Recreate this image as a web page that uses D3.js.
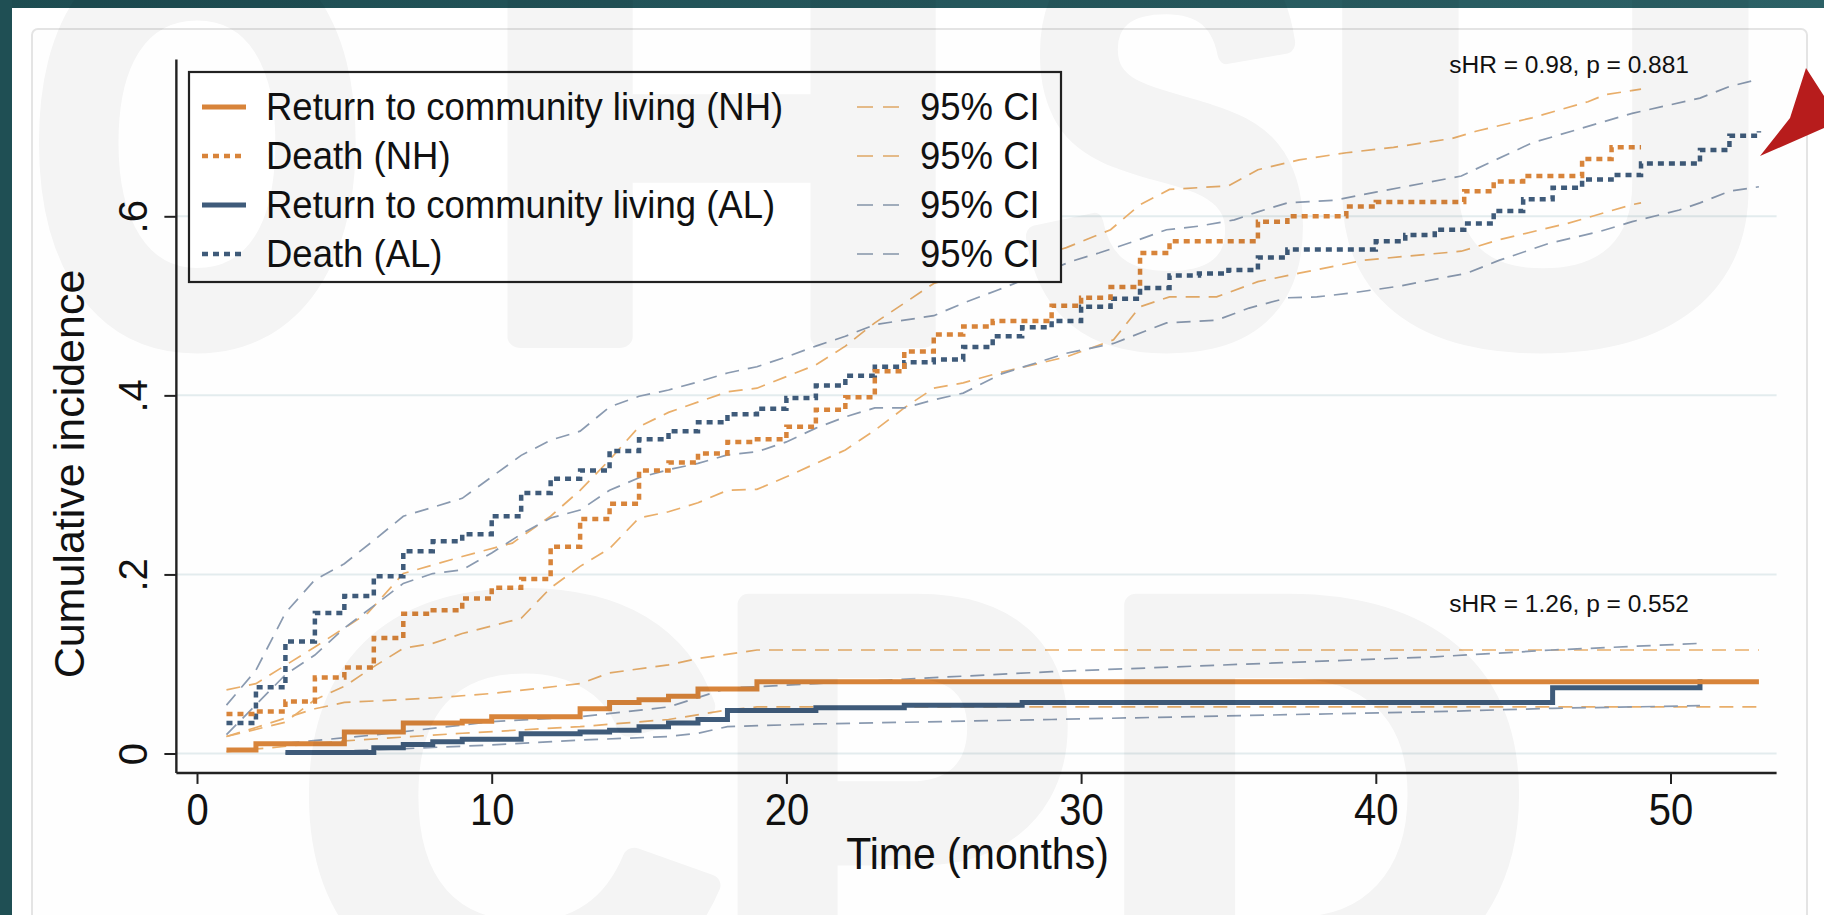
<!DOCTYPE html>
<html><head><meta charset="utf-8">
<script src="https://cdn.jsdelivr.net/npm/d3@7"></script>
<style>
html,body{margin:0;padding:0;background:#fff;}
svg{display:block;}
text{font-family:"Liberation Sans", Arial, Helvetica, sans-serif;}
</style></head><body>
<svg id="c" width="1824" height="915"></svg>
<script>
// ---------------- data ----------------
const xTicks = [0, 10, 20, 30, 40, 50];
const yTicks = [0, 0.2, 0.4, 0.6];
const yTickLabels = ["0", ".2", ".4", ".6"];
const xTitle = "Time (months)";
const yTitle = "Cumulative incidence";

// cumulative incidence step curves [month, value]
const returnNH = [[1,0.004],[2,0.011],[5,0.024],[7,0.034],[9,0.036],[10,0.041],[13,0.050],[14,0.057],[15,0.060],[16,0.064],[17,0.072],[19,0.080],[53,0.080]];
const deathNH = [[1,0.044],[2,0.047],[3,0.058],[4,0.085],[5,0.096],[6,0.129],[7,0.156],[8,0.160],[9,0.173],[10,0.185],[11,0.195],[12,0.231],[13,0.262],[14,0.279],[15,0.316],[16,0.325],[17,0.335],[18,0.348],[19,0.351],[20,0.365],[21,0.384],[22,0.398],[23,0.427],[24,0.449],[25,0.468],[26,0.477],[27,0.483],[29,0.500],[30,0.509],[31,0.521],[32,0.559],[33,0.572],[36,0.594],[37,0.600],[39,0.611],[40,0.616],[43,0.628],[44,0.639],[45,0.645],[47,0.664],[48,0.677],[49,0.677]];
const returnAL = [[3,0.001],[6,0.0065],[7,0.010],[8,0.013],[9,0.016],[11,0.022],[13,0.024],[14,0.026],[15,0.030],[16,0.034],[17,0.038],[18,0.048],[21,0.051],[24,0.054],[28,0.057],[46,0.0735],[51,0.083]];
const deathAL = [[1,0.034],[2,0.074],[3,0.125],[4,0.157],[5,0.176],[6,0.198],[7,0.226],[8,0.237],[9,0.245],[10,0.265],[11,0.291],[12,0.307],[13,0.316],[14,0.338],[15,0.351],[16,0.360],[17,0.370],[18,0.379],[19,0.385],[20,0.397],[21,0.411],[22,0.422],[23,0.432],[24,0.437],[25,0.440],[26,0.454],[27,0.466],[28,0.476],[29,0.483],[30,0.499],[31,0.508],[32,0.520],[33,0.534],[34,0.536],[35,0.540],[36,0.554],[37,0.563],[40,0.572],[41,0.579],[42,0.585],[43,0.592],[44,0.606],[45,0.619],[46,0.632],[47,0.641],[48,0.646],[49,0.659],[51,0.674],[52,0.690],[53,0.695]];

// 95% confidence bands [month, value]
const returnNH_hi = [[1,0.019],[2,0.029],[4,0.050],[5,0.057],[8,0.062],[10,0.067],[13,0.078],[14,0.090],[16,0.099],[17,0.106],[19,0.1156],[53,0.1156]];
const returnNH_lo = [[1,0.002],[5,0.014],[9,0.0226],[13,0.030],[16,0.038],[18,0.0486],[19,0.052],[53,0.052]];
const deathNH_hi = [[1,0.071],[2,0.078],[4,0.119],[5.8,0.157],[7,0.201],[9,0.220],[10.7,0.235],[12,0.265],[13,0.294],[14,0.328],[15,0.365],[16,0.381],[18,0.404],[19,0.408],[20,0.421],[21,0.434],[22,0.455],[23,0.481],[24,0.503],[25,0.525],[26,0.535],[28,0.550],[29.5,0.565],[31,0.585],[32,0.613],[33,0.630],[35,0.634],[36,0.652],[37.4,0.663],[39,0.671],[40.6,0.677],[42.6,0.687],[43.4,0.695],[45.3,0.710],[47.2,0.728],[47.8,0.736],[49,0.742]];
const deathNH_lo = [[1,0.019],[3,0.035],[4,0.060],[5,0.075],[6,0.097],[7,0.1175],[8,0.123],[9,0.134],[11,0.151],[12,0.185],[13,0.209],[14,0.229],[15,0.263],[16,0.270],[17,0.280],[18,0.294],[19,0.295],[20,0.309],[21,0.324],[22,0.339],[23,0.361],[24,0.386],[25,0.408],[26,0.414],[27.2,0.425],[29.5,0.443],[31.1,0.462],[32,0.499],[33,0.510],[34.6,0.510],[36,0.527],[37.4,0.5365],[39.6,0.551],[42.9,0.561],[44.2,0.574],[46.5,0.592],[48.7,0.613],[49,0.615]];
const returnAL_hi = [[3,0.0114],[6,0.0207],[10,0.0355],[13,0.041],[16,0.052],[18,0.073],[21,0.078],[29,0.0914],[42,0.108],[46,0.1156],[51,0.123]];
const returnAL_lo = [[3,0.0002],[6,0.004],[10,0.0095],[13,0.015],[16,0.019],[17,0.0226],[18,0.030],[21,0.033],[29,0.038],[42,0.0467],[46,0.0505],[51,0.0534]];
const deathAL_hi = [[1,0.054],[2,0.093],[3,0.157],[4,0.194],[5,0.212],[6,0.238],[7,0.265],[9,0.285],[10,0.309],[11,0.333],[12,0.350],[13,0.360],[14,0.387],[15,0.399],[16,0.406],[17,0.415],[18,0.425],[19,0.432],[20,0.443],[21,0.455],[22,0.466],[23,0.479],[24,0.484],[25,0.489],[26,0.503],[27.2,0.518],[29.7,0.550],[30.6,0.559],[31.8,0.572],[32.9,0.585],[34,0.589],[35.2,0.596],[36,0.605],[37,0.615],[38.6,0.618],[40,0.627],[42.9,0.645],[43.8,0.659],[45.3,0.682],[47,0.6985],[48.7,0.715],[51,0.732],[52,0.745],[53,0.753]];
const deathAL_lo = [[1,0.021],[3,0.088],[4,0.110],[5,0.140],[7,0.190],[8,0.201],[9,0.205],[10,0.224],[11,0.245],[12,0.263],[13,0.272],[14,0.294],[15,0.308],[16,0.317],[17,0.324],[18,0.3335],[19,0.337],[20,0.348],[21,0.3634],[22,0.376],[23,0.386],[24,0.386],[25,0.395],[26,0.4025],[27.3,0.424],[29.5,0.447],[31.1,0.458],[32.9,0.481],[34.6,0.484],[35.7,0.4975],[37,0.509],[38,0.510],[39.1,0.514],[40.8,0.522],[43.1,0.5365],[44.2,0.551],[45.9,0.570],[47.6,0.583],[48.7,0.594],[50.3,0.607],[51,0.615],[52,0.628],[53,0.633]];

const legendLabels = ["Return to community living (NH)", "Death (NH)", "Return to community living (AL)", "Death (AL)"];
const ciLabel = "95% CI";
const annotations = ["sHR = 0.98, p = 0.881", "sHR = 1.26, p = 0.552"];
const watermarkTop = ["O", "H", "S", "U"];
const watermarkBottom = ["C", "P", "D"];

// ---------------- styles ----------------
const ORANGE = "#d8843a", ORANGE_CI = "#e9ae6a";
const NAVY = "#3f5b7a", NAVY_CI = "#8a9ab0";
const styleSolid = {w: 5, dash: null};
const styleDot = {w: 4.5, dash: "6,5"};
const styleCI = {w: 1.7, dash: "14,9"};
const FONT = '"Liberation Sans", Arial, sans-serif';

// ---------------- page ----------------
const W = 1824, H = 915;
const svg = d3.select("#c");
const defs = svg.append("defs");
const grad = defs.append("linearGradient").attr("id","tg").attr("x1","0").attr("x2","1");
grad.append("stop").attr("offset","0").attr("stop-color","#1d4c51");
grad.append("stop").attr("offset","1").attr("stop-color","#2c6166");
svg.append("rect").attr("width",W).attr("height",H).attr("fill","#ffffff");
svg.append("rect").attr("x",0).attr("y",0).attr("width",W).attr("height",8).attr("fill","url(#tg)");
svg.append("rect").attr("x",0).attr("y",0).attr("width",12).attr("height",H).attr("fill","#1f4f54");
svg.append("rect").attr("x",32).attr("y",29).attr("width",1775).attr("height",920).attr("rx",6)
  .attr("fill","#fefefe").attr("stroke","#e4e4e4").attr("stroke-width",2);

// scales
const x = d3.scaleLinear().domain([0, 50]).range([197, 1670.5]);
const y = d3.scaleLinear().domain([0, 0.6]).range([753.5, 216.3]);
const xMin = -0.7, xMax = 53.6, yMin = -0.0217, yMax = 0.775;

// gridlines
svg.append("g").selectAll("line").data(yTicks).join("line")
  .attr("x1", x(xMin)).attr("x2", x(xMax))
  .attr("y1", d => y(d)).attr("y2", d => y(d))
  .attr("stroke", "#e3ecee").attr("stroke-width", 2);

// axes
const xAxis = svg.append("g").attr("transform", `translate(0,${y(yMin)})`)
  .call(d3.axisBottom(x).tickValues(xTicks).tickFormat(d3.format("d")).tickSize(11).tickSizeOuter(0));
xAxis.select(".domain").remove();
xAxis.selectAll(".tick line").attr("stroke", "#222").attr("stroke-width", 2);
xAxis.selectAll(".tick text").attr("y", 52 / 1.1).attr("dy", 0).attr("transform", "scale(1,1.1)").attr("fill", "#111")
  .style("font-size", "40px").style("font-family", FONT);
svg.append("line").attr("x1", x(xMin)).attr("x2", x(xMax)).attr("y1", y(yMin)).attr("y2", y(yMin))
  .attr("stroke", "#222").attr("stroke-width", 2.4);

const yAxis = svg.append("g").attr("transform", `translate(${x(xMin)},0)`)
  .call(d3.axisLeft(y).tickValues(yTicks).tickFormat((d,i) => yTickLabels[i]).tickSize(12).tickSizeOuter(0));
yAxis.select(".domain").remove();
yAxis.selectAll(".tick line").attr("stroke", "#222").attr("stroke-width", 2);
yAxis.selectAll(".tick text").attr("transform", "rotate(-90)").attr("x", 0).attr("y", -(x(xMin) - 147)).attr("dy", 0)
  .attr("text-anchor", "middle").attr("fill", "#111")
  .style("font-size", "40px").style("font-family", FONT);
svg.append("line").attr("x1", x(xMin)).attr("x2", x(xMin)).attr("y1", y(yMin)).attr("y2", y(yMax))
  .attr("stroke", "#222").attr("stroke-width", 2.4);

// axis titles
svg.append("text").attr("transform", `translate(${(x(xMin) + x(xMax)) / 2 + 1},869) scale(1,1.1)`).attr("text-anchor", "middle")
  .attr("fill", "#111").style("font-size", "41px").text(xTitle);
svg.append("text").attr("transform", `translate(84,474) rotate(-90)`).attr("text-anchor", "middle")
  .attr("fill", "#111").style("font-size", "43px").text(yTitle);

// curves
const plot = svg.append("g");
const ciLine = d3.line().x(d => x(d[0])).y(d => y(d[1])).curve(d3.curveLinear);
const stepLine = d3.line().x(d => x(d[0])).y(d => y(d[1])).curve(d3.curveStepAfter);

const ciSeries = [
  [returnNH_hi, ORANGE_CI], [returnNH_lo, ORANGE_CI],
  [deathNH_hi, ORANGE_CI], [deathNH_lo, ORANGE_CI],
  [returnAL_hi, NAVY_CI], [returnAL_lo, NAVY_CI],
  [deathAL_hi, NAVY_CI], [deathAL_lo, NAVY_CI]
];
ciSeries.forEach(([data, col]) => {
  plot.append("path").attr("d", ciLine(data)).attr("fill", "none")
    .attr("stroke", col).attr("stroke-width", styleCI.w).attr("stroke-dasharray", styleCI.dash);
});

const mainSeries = [
  [deathAL, NAVY, styleDot], [deathNH, ORANGE, styleDot],
  [returnAL, NAVY, styleSolid], [returnNH, ORANGE, styleSolid]
];
mainSeries.forEach(([data, col, st]) => {
  plot.append("path").attr("d", stepLine(data)).attr("fill", "none")
    .attr("stroke", col).attr("stroke-width", st.w)
    .attr("stroke-dasharray", st.dash).attr("stroke-linecap", "butt").attr("stroke-linejoin", "miter");
});

// annotations
svg.selectAll("text.ann").data(annotations).join("text").attr("class", "ann")
  .attr("x", 1689).attr("y", (d, i) => i === 0 ? 73 : 612)
  .attr("text-anchor", "end").attr("fill", "#111").style("font-size", "24.5px").text(d => d);

// legend
const lg = svg.append("g");
lg.append("rect").attr("x", 189).attr("y", 72).attr("width", 872).attr("height", 210)
  .attr("fill", "#ffffff").attr("stroke", "#222").attr("stroke-width", 2.2);
const legStyles = [[ORANGE, styleSolid, ORANGE_CI], [ORANGE, styleDot, ORANGE_CI], [NAVY, styleSolid, NAVY_CI], [NAVY, styleDot, NAVY_CI]];
legendLabels.forEach((lab, i) => {
  const cy = 107 + i * 49;
  const [col, st, ccol] = legStyles[i];
  lg.append("line").attr("x1", 202).attr("x2", 246).attr("y1", cy).attr("y2", cy)
    .attr("stroke", col).attr("stroke-width", st.w).attr("stroke-dasharray", st.dash === null ? null : "6,5");
  lg.append("text").attr("transform", `translate(266,${cy + 12.5}) scale(1,1.06)`).attr("fill", "#111").style("font-size", "36.5px").text(lab);
  lg.append("line").attr("x1", 857).attr("x2", 900).attr("y1", cy).attr("y2", cy)
    .attr("stroke", ccol).attr("stroke-width", styleCI.w).attr("stroke-dasharray", "16,10");
  lg.append("text").attr("transform", `translate(920,${cy + 12.5}) scale(1,1.06)`).attr("fill", "#111").style("font-size", "36.5px").text(ciLabel);
});

// red arrow decoration
svg.append("path").attr("d", "M1806,68 L1824,96 L1824,128 L1760,156 L1790,118 Z").attr("fill", "#b71c1c");

// watermark overlay (very faint, heavy letters)
const FS = 560;
const wm = svg.append("g").attr("opacity", 0.04).attr("fill", "#000").attr("stroke", "#000")
  .attr("stroke-width", 22).attr("stroke-linejoin", "round")
  .style("font-weight", "bold").style("font-family", FONT).style("font-size", FS + "px");
const inkEm = {O: [0.04, 0.70], H: [0.07, 0.58], S: [0.03, 0.59], U: [0.07, 0.58], C: [0.04, 0.64], P: [0.07, 0.55], D: [0.07, 0.60]};
const topBoxes = [[47, 302], [523, 396], [1035, 256], [1361, 368]];
const botBoxes = [[320, 380], [750, 300], [1138, 363]];
function wmLetter(ch, box, base) {
  const [l, w] = inkEm[ch];
  const sx = box[1] / (w * FS);
  wm.append("text").attr("transform", `translate(${box[0] - l * FS * sx},${base}) scale(${sx},1)`).text(ch);
}
watermarkTop.forEach((ch, i) => wmLetter(ch, topBoxes[i], 337));
watermarkBottom.forEach((ch, i) => wmLetter(ch, botBoxes[i], 990));
</script>
</body></html>
